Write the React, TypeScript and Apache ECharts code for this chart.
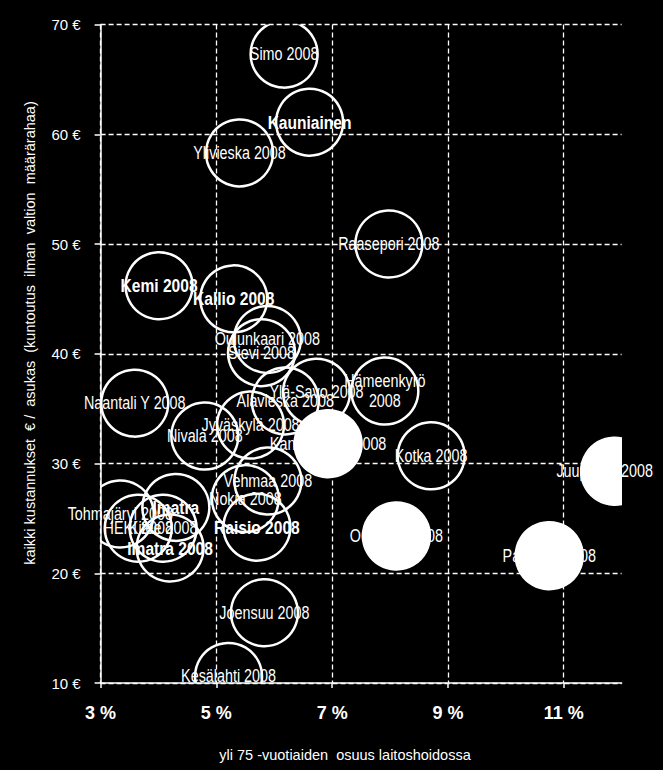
import { useEffect, useRef } from 'react';
import * as echarts from 'echarts';

// Municipality labels
const municipalities = [
  'Simo 2008', 'Kauniainen', 'Ylivieska 2008', 'Raasepori 2008', 'Kemi 2008', 'Kallio 2008',
  'Oulunkaari 2008', 'Sievi 2008', 'Ylä-Savo 2008', 'Hämeenkyrö 2008', 'Alavieska 2008',
  'Naantali Y 2008', 'Nivala 2008', 'Jyväskylä 2008', 'Kankaanpää 2008', 'Kotka 2008',
  'Juupajoki 2008', 'Vehmaa 2008', 'Nokia 2008', 'Imatra', 'Tohmajärvi 2008', 'HEKI 2008',
  'Kitee 2008', 'Raisio 2008', 'Oulainen 2008', 'Imatra 2008', 'Parainen 2008',
  'Joensuu 2008', 'Kesälahti 2008',
];
// yli 75-vuotiaiden osuus laitoshoidossa (%)
const shareInCare = [
  6.17, 6.61, 5.40, 7.98, 4.01, 5.30,
  5.88, 5.78, 6.73, 7.91, 6.19,
  3.59, 4.80, 5.59, 6.93, 8.71,
  11.88, 5.89, 5.50, 4.30, 3.34, 3.65,
  4.08, 5.70, 8.11, 4.20, 10.75,
  5.83, 5.21,
];
// kaikki kustannukset € / asukas
const costPerResident = [
  67.3, 61.1, 58.3, 50.0, 46.2, 45.0,
  41.3, 40.1, 36.5, 36.6, 35.7,
  35.5, 32.5, 33.5, 31.8, 30.7,
  29.3, 28.4, 26.8, 26.0, 25.4, 24.1,
  24.1, 24.2, 23.4, 22.3, 21.6,
  16.4, 10.6,
];
// highlighted (filled) bubbles
const highlighted = [
  0, 0, 0, 0, 0, 0,
  0, 0, 0, 0, 0,
  0, 0, 0, 1, 0,
  1, 0, 0, 0, 0, 0,
  0, 0, 1, 0, 1,
  0, 0,
];

const xTickValues = [3, 5, 7, 9, 11];
const xMin = 3;
const xMax = 12;
const yMin = 10;
const yMax = 70;
const yStep = 10;

const xAxisTitle = 'yli 75 -vuotiaiden  osuus laitoshoidossa';
const yAxisTitle = 'kaikki kustannukset  € /  asukas  (kuntoutus  ilman  valtion  määrärahaa)';

const FONT = '"Liberation Sans", Arial, sans-serif';
const NARROW = 0.82;
const boldLabels = new Set(['Kauniainen', 'Kemi 2008', 'Kallio 2008', 'Imatra', 'Imatra 2008', 'Raisio 2008']);
const labelOffsets: Record<string, [number, number]> = { 'Juupajoki 2008': [-10, 0] };
const labelText: Record<string, string> = { 'Hämeenkyrö 2008': 'Hämeenkyrö\n2008' };
const BUBBLE_R = 33.5;

export default function App() {
  const ref = useRef<HTMLDivElement>(null);

  useEffect(() => {
    if (!ref.current) return;
    const chart = echarts.init(ref.current, null, { renderer: 'svg' });

    const bubbleData = municipalities.map((n, i) => [shareInCare[i], costPerResident[i], highlighted[i]]);
    const labelData = municipalities.map((n, i) => [shareInCare[i], costPerResident[i], i]);

    chart.setOption({
      animation: false,
      backgroundColor: '#000',
      grid: { left: 100.6, right: 41.4, top: 24.5, bottom: 87, outerBoundsMode: 'none' },
      graphic: [
        {
          type: 'text',
          x: 345,
          y: 755,
          silent: true,
          style: {
            text: xAxisTitle,
            fill: '#fff',
            fontFamily: FONT,
            fontSize: 14.5,
            align: 'center',
            verticalAlign: 'middle',
          },
        },
        {
          type: 'text',
          x: 30,
          y: 333,
          rotation: Math.PI / 2,
          silent: true,
          style: {
            text: yAxisTitle,
            fill: '#fff',
            fontFamily: FONT,
            fontSize: 14.5,
            align: 'center',
            verticalAlign: 'middle',
          },
        },
      ],
      xAxis: {
        type: 'value',
        min: xMin,
        max: xMax,
        axisLine: { show: true, lineStyle: { color: '#fff', width: 1.5 } },
        axisTick: { show: true, length: 5, customValues: xTickValues, lineStyle: { color: '#fff', width: 1.5 } },
        axisLabel: {
          customValues: xTickValues,
          formatter: (v: number) => `${v} %`,
          color: '#fff',
          fontFamily: FONT,
          fontSize: 18,
          fontWeight: 'bold',
          margin: 21,
        },
        splitLine: { show: true, lineStyle: { color: '#fff', width: 1.3, type: [5, 3] } },
      },
      yAxis: {
        type: 'value',
        min: yMin,
        max: yMax,
        interval: yStep,
        axisLine: { show: true, lineStyle: { color: '#fff', width: 1.5 } },
        axisTick: { show: true, length: 6, lineStyle: { color: '#fff', width: 1.5 } },
        axisLabel: {
          formatter: (v: number) => `${v} €`,
          color: '#fff',
          fontFamily: FONT,
          fontSize: 15,
          margin: 20,
        },
        splitLine: { show: true, lineStyle: { color: '#fff', width: 1.3, type: [5, 3] } },
      },
      series: [
        {
          type: 'custom',
          clip: true,
          silent: true,
          z: 2,
          data: bubbleData,
          renderItem: (params: any, api: any) => {
            const p = api.coord([api.value(0), api.value(1)]);
            const filled = api.value(2) === 1;
            return {
              type: 'circle',
              z2: filled ? 10 : 0,
              shape: { cx: p[0], cy: p[1], r: BUBBLE_R },
              style: {
                fill: filled ? '#fff' : 'none',
                stroke: '#fff',
                lineWidth: 2.5,
              },
            };
          },
        },
        {
          type: 'custom',
          clip: false,
          silent: true,
          z: 5,
          data: labelData,
          renderItem: (params: any, api: any) => {
            const i = params.dataIndex;
            const n = municipalities[i];
            const p = api.coord([api.value(0), api.value(1)]);
            const bold = boldLabels.has(n);
            const off = labelOffsets[n] || [0, 0];
            return {
              type: 'text',
              x: p[0] + off[0],
              y: p[1] + off[1],
              scaleX: NARROW,
              style: {
                text: labelText[n] || n,
                fill: '#fff',
                fontFamily: FONT,
                fontSize: bold ? 19 : 17.5,
                fontWeight: bold ? 'bold' : 'normal',
                lineHeight: 20,
                align: 'center',
                verticalAlign: 'middle',
              },
            };
          },
        },
      ],
    });

    return () => chart.dispose();
  }, []);

  return (
    <div
      ref={ref}
      style={{ position: 'absolute', left: 0, top: 0, width: 663, height: 770, background: '#000' }}
    />
  );
}
